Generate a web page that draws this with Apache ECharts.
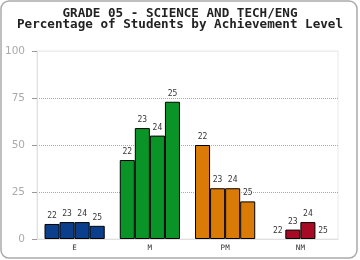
<!DOCTYPE html>
<html><head><meta charset="utf-8">
<script src="https://cdn.jsdelivr.net/npm/echarts@6/dist/echarts.min.js"></script>
<style>html,body{margin:0;padding:0;background:#fff}#c{width:360px;height:260px}</style>
</head><body><div id="c"></div>
<script>
const titleLines = ['GRADE 05 - SCIENCE AND TECH/ENG', 'Percentage of Students by Achievement Level'];
const categories = ['E', 'M', 'PM', 'NM'];
const years = ['22', '23', '24', '25'];
const values22 = [8, 42, 50, 0];
const values23 = [9, 59, 27, 5];
const values24 = [9, 55, 27, 9];
const values25 = [7, 73, 20, 0];
const yTicks = [0, 25, 50, 75, 100];
const levelColors = ['#0b3f8c', '#0a9428', '#d97b06', '#a60a24'];

const seriesValues = [values22, values23, values24, values25];
const chart = echarts.init(document.getElementById('c'), null, {renderer: 'canvas'});
chart.setOption({
  animation: false,
  graphic: [{
    type: 'rect', shape: {x: 1, y: 1, width: 356, height: 257, r: 8},
    style: {fill: 'none', stroke: '#aaa', lineWidth: 1.5}, z: 0
  }],
  title: {
    text: titleLines.join('\n'), left: 'center', top: 3,
    textStyle: {fontFamily: 'DejaVu Sans Mono', fontWeight: 'bold', fontSize: 12.6, lineHeight: 11, color: '#222'}
  },
  grid: {left: 37, right: 22, top: 51, bottom: 21, show: true, borderColor: '#e8e8e8', borderWidth: 1},
  xAxis: {
    type: 'category', data: categories,
    axisLine: {lineStyle: {color: '#e0e0e0'}}, axisTick: {show: false},
    axisLabel: {fontFamily: 'DejaVu Sans Mono', fontSize: 7.5, color: '#333', margin: 5}
  },
  yAxis: {
    type: 'value', min: yTicks[0], max: yTicks[yTicks.length - 1], interval: 25,
    axisLine: {show: true, lineStyle: {color: '#e0e0e0'}},
    axisTick: {show: true, length: 5, lineStyle: {color: '#999'}},
    axisLabel: {fontFamily: 'DejaVu Sans', fontSize: 10.5, color: '#aaa', margin: 12},
    splitLine: {show: true, lineStyle: {type: [1, 1], color: ['#e0e0e0', '#aaa', '#aaa', '#aaa', '#e8e8e8']}}
  },
  series: years.map((y, i) => ({
    name: y, type: 'bar', barGap: '0%', barCategoryGap: '20%',
    data: seriesValues[i].map((v, j) => ({value: v,
      itemStyle: {color: levelColors[j], borderWidth: v === 0 ? 0 : 1}})),
    itemStyle: {borderColor: '#000', borderWidth: 1},
    label: {show: true, position: 'top', distance: 4, formatter: y,
      fontFamily: 'DejaVu Sans Mono', fontSize: 8, color: '#333'}
  }))
});
</script></body></html>
